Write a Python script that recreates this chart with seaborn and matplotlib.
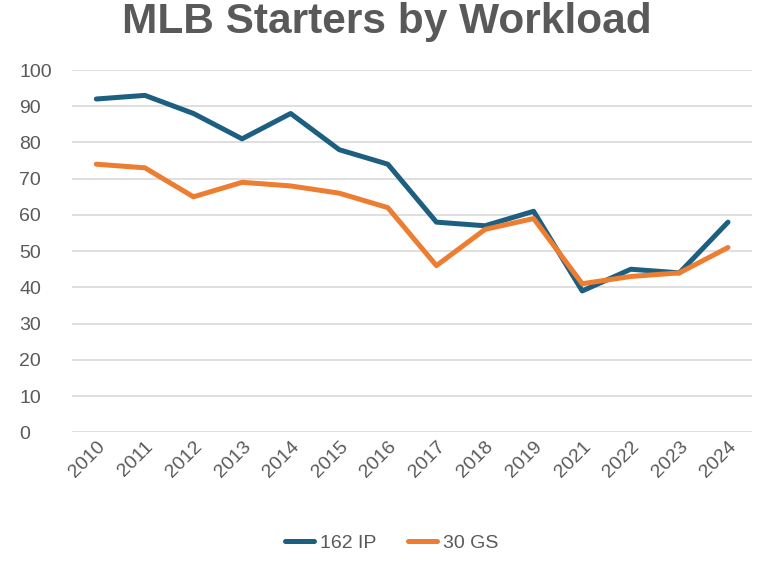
import pandas as pd
import seaborn as sns
import matplotlib.pyplot as plt

sns.set_style("white")
plt.rcParams['font.family'] = ['Liberation Sans', 'DejaVu Sans']

## DATA
years = ['2010', '2011', '2012', '2013', '2014', '2015', '2016',
         '2017', '2018', '2019', '2021', '2022', '2023', '2024']
ip162 = [92, 93, 88, 81, 88, 78, 74, 58, 57, 61, 39, 45, 44, 58]
gs30 = [74, 73, 65, 69, 68, 66, 62, 46, 56, 59, 41, 43, 44, 51]

df = pd.DataFrame({'year': years * 2,
                   'value': ip162 + gs30,
                   'series': ['162 IP'] * len(years) + ['30 GS'] * len(years)})

grey = '#595959'
fig = plt.figure(figsize=(7.7, 5.74), dpi=100)
ax = fig.add_axes([0.0935, 0.247, 0.8835, 0.631])
sns.lineplot(data=df, x='year', y='value', hue='series',
             palette=['#1d5f80', '#ed7d31'], linewidth=3.6, ax=ax,
             sort=False)

ax.set_ylim(0, 100)
ax.set_xlim(-0.5, len(years) - 0.5)
ax.set_yticks(range(0, 101, 10))
ax.yaxis.grid(True, color='#d9d9d9', linewidth=1.2)
ax.set_axisbelow(True)
for s in ax.spines.values():
    s.set_visible(False)
ax.tick_params(axis='both', length=0, colors=grey, labelsize=14)
ax.tick_params(axis='y', pad=38)
ax.tick_params(axis='x', pad=4)
plt.setp(ax.get_yticklabels(), ha='left')
plt.setp(ax.get_xticklabels(), rotation=45, ha='right', rotation_mode='anchor')
ax.set_xlabel('')
ax.set_ylabel('')

fig.suptitle('MLB Starters by Workload', x=0.502, y=0.997, fontsize=30.5,
             fontweight='bold', color=grey)

leg = ax.legend(loc='center', bbox_to_anchor=(0.47, -0.307), ncol=2,
                frameon=False, fontsize=14, handlelength=1.5,
                columnspacing=1.6, handletextpad=0.3)
for t in leg.get_texts():
    t.set_color(grey)

plt.savefig('out.png', dpi=100)
